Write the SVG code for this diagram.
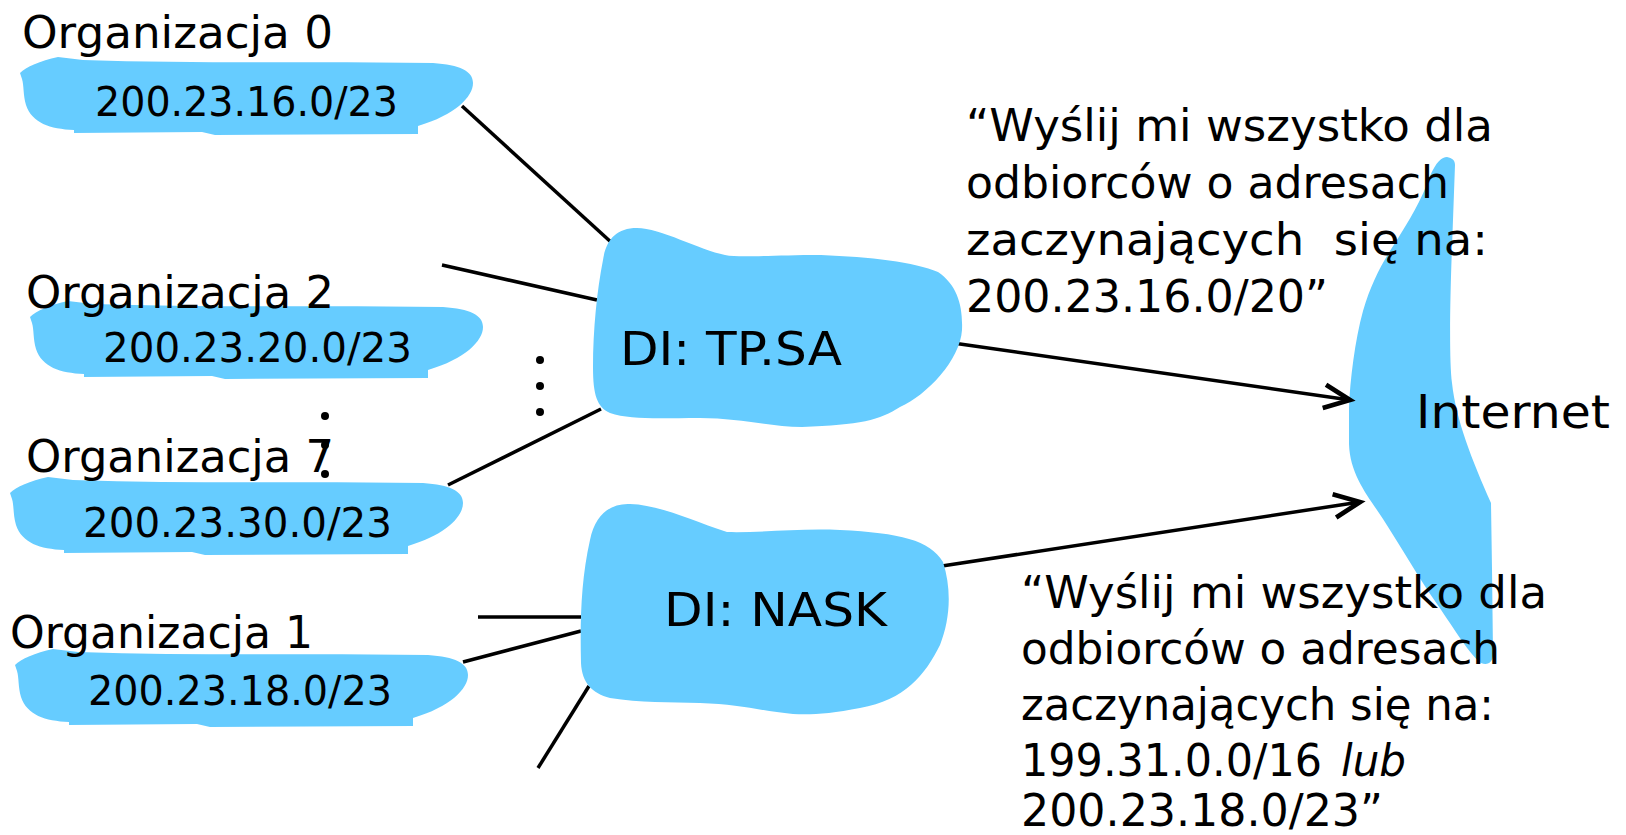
<svg xmlns="http://www.w3.org/2000/svg" xmlns:xlink="http://www.w3.org/1999/xlink" width="1626" height="835" viewBox="0 0 1626 835">
<style>
.blob{fill:#66CCFF;stroke:none}
.t{font-family:"DejaVu Sans","Liberation Sans",sans-serif;fill:#000}
.org{font-size:44px}
.ip{font-size:40px}
.di{font-size:46px}
.msg{font-size:44px}
.ln{stroke:#000;stroke-width:3.5;fill:none;stroke-linecap:butt}
.dot{fill:#000}
</style>
<defs>
<path id="orgblob" d="M0,16 C6,10 20,4 38,0 L63,3 C180,7 300,4 413,6 C440,8 453,14 453,26 C453,40 435,58 398,69 L398,77 L195,78 L182,75 L54,76 L54,73 C30,72 12,66 6,48 C3,38 4,28 2,22 Z"/>
<marker id="arr" markerUnits="userSpaceOnUse" markerWidth="40" markerHeight="40" viewBox="-30 -15 34 30" refX="0" refY="0" orient="auto" overflow="visible">
<path d="M-22,-10 L0,0 L-22,10" fill="none" stroke="#000" stroke-width="4"/>
</marker>
</defs>
<rect width="1626" height="835" fill="#fff"/>

<g id="internet">
<path class="blob" d="M1430,176 C1436,162 1442,157 1447,157 C1452,158 1455,160 1455,165 L1452,247 C1450,300 1449,360 1452,383 C1456,420 1472,460 1491,503 L1492,569 L1493,654 C1493,662 1488,666 1481,663 C1470,655 1455,630 1437,604 C1420,580 1400,545 1383,519 C1368,496 1350,475 1349,444 L1349,408 C1350,380 1355,340 1363,311 C1372,280 1385,258 1397,240 C1408,222 1422,200 1430,176 Z"/>
<text class="t di" x="1416" y="428" textLength="194" lengthAdjust="spacingAndGlyphs">Internet</text>
</g>

<g id="connectors">
<line class="ln" x1="462" y1="106" x2="612" y2="243"/>
<line class="ln" x1="442" y1="265" x2="597" y2="300"/>
<line class="ln" x1="448" y1="485" x2="601" y2="409"/>
<line class="ln" x1="478" y1="617" x2="581" y2="617"/>
<line class="ln" x1="463" y1="662" x2="581" y2="631"/>
<line class="ln" x1="589" y1="686" x2="538" y2="768"/>
<line class="ln" x1="953" y1="343" x2="1350" y2="400" marker-end="url(#arr)"/>
<line class="ln" x1="942" y1="566" x2="1360" y2="502" marker-end="url(#arr)"/>
</g>

<g id="tpsa">
<path class="blob" d="M603,260 C606,240 616,228 637,228 C660,228 700,250 725,255 C740,258 770,255 821,255 C870,257 915,262 938,272 C957,285 963,305 962,330 C960,360 927,395 900,407 C880,420 860,425 802,427 C770,427 740,418 700,418 C660,418 630,420 610,413 C597,407 593,395 593,367 C593,330 597,290 603,260 Z"/>
<text class="t di" x="620" y="365" textLength="222" lengthAdjust="spacingAndGlyphs">DI: TP.SA</text>
</g>

<g id="nask">
<path class="blob" d="M590,540 C595,515 610,503 630,504 C660,505 690,520 727,532 C760,533 800,528 840,530 C900,533 930,540 943,562 C952,590 950,620 940,645 C925,675 905,700 860,708 C830,714 810,715 793,714 C760,711 740,704 700,703 C670,702 640,703 610,698 C592,693 582,683 581,663 C580,620 581,580 590,540 Z"/>
<text class="t di" x="664" y="626" textLength="223" lengthAdjust="spacingAndGlyphs">DI: NASK</text>
</g>

<g id="org0">
<use xlink:href="#orgblob" href="#orgblob" class="blob" transform="translate(20,57)"/>
<text class="t org" x="22" y="48" textLength="311" lengthAdjust="spacingAndGlyphs">Organizacja 0</text>
<text class="t ip" x="95" y="116" textLength="303" lengthAdjust="spacingAndGlyphs">200.23.16.0/23</text>
</g>

<g id="org2">
<use xlink:href="#orgblob" href="#orgblob" class="blob" transform="translate(30,301)"/>
<text class="t org" x="26" y="308" textLength="308" lengthAdjust="spacingAndGlyphs">Organizacja 2</text>
<text class="t ip" x="103" y="362" textLength="309" lengthAdjust="spacingAndGlyphs">200.23.20.0/23</text>
</g>

<g id="org7">
<use xlink:href="#orgblob" href="#orgblob" class="blob" transform="translate(10,477)"/>
<text class="t org" x="26" y="472" textLength="308" lengthAdjust="spacingAndGlyphs">Organizacja 7</text>
<text class="t ip" x="83" y="537" textLength="309" lengthAdjust="spacingAndGlyphs">200.23.30.0/23</text>
</g>

<g id="org1">
<use xlink:href="#orgblob" href="#orgblob" class="blob" transform="translate(15,649)"/>
<text class="t org" x="10" y="648" textLength="303" lengthAdjust="spacingAndGlyphs">Organizacja 1</text>
<text class="t ip" x="88" y="705" textLength="304" lengthAdjust="spacingAndGlyphs">200.23.18.0/23</text>
</g>

<g id="ellipsis">
<circle class="dot" cx="540" cy="360" r="4"/>
<circle class="dot" cx="540" cy="386" r="4"/>
<circle class="dot" cx="540" cy="412" r="4"/>
<circle class="dot" cx="325" cy="416" r="4"/>
<circle class="dot" cx="325" cy="445" r="4"/>
<circle class="dot" cx="325" cy="474" r="4"/>
</g>

<g id="msg-tpsa">
<text class="t msg" x="966" y="141" textLength="527" lengthAdjust="spacingAndGlyphs">“Wyślij mi wszystko dla</text>
<text class="t msg" x="966" y="198" textLength="483" lengthAdjust="spacingAndGlyphs">odbiorców o adresach</text>
<text class="t msg" x="966" y="255" textLength="522" lengthAdjust="spacingAndGlyphs" xml:space="preserve">zaczynających  się na:</text>
<text class="t msg" x="966" y="312" textLength="362" lengthAdjust="spacingAndGlyphs">200.23.16.0/20”</text>
</g>

<g id="msg-nask">
<text class="t msg" x="1021" y="608" textLength="526" lengthAdjust="spacingAndGlyphs">“Wyślij mi wszystko dla</text>
<text class="t msg" x="1021" y="664" textLength="479" lengthAdjust="spacingAndGlyphs">odbiorców o adresach</text>
<text class="t msg" x="1021" y="720" textLength="473" lengthAdjust="spacingAndGlyphs">zaczynających się na:</text>
<text class="t msg" x="1021" y="776" textLength="301" lengthAdjust="spacingAndGlyphs">199.31.0.0/16</text>
<text class="t msg" x="1341" y="776" font-style="italic" textLength="65" lengthAdjust="spacingAndGlyphs">lub</text>
<text class="t msg" x="1021" y="826" textLength="362" lengthAdjust="spacingAndGlyphs">200.23.18.0/23”</text>
</g>
</svg>
